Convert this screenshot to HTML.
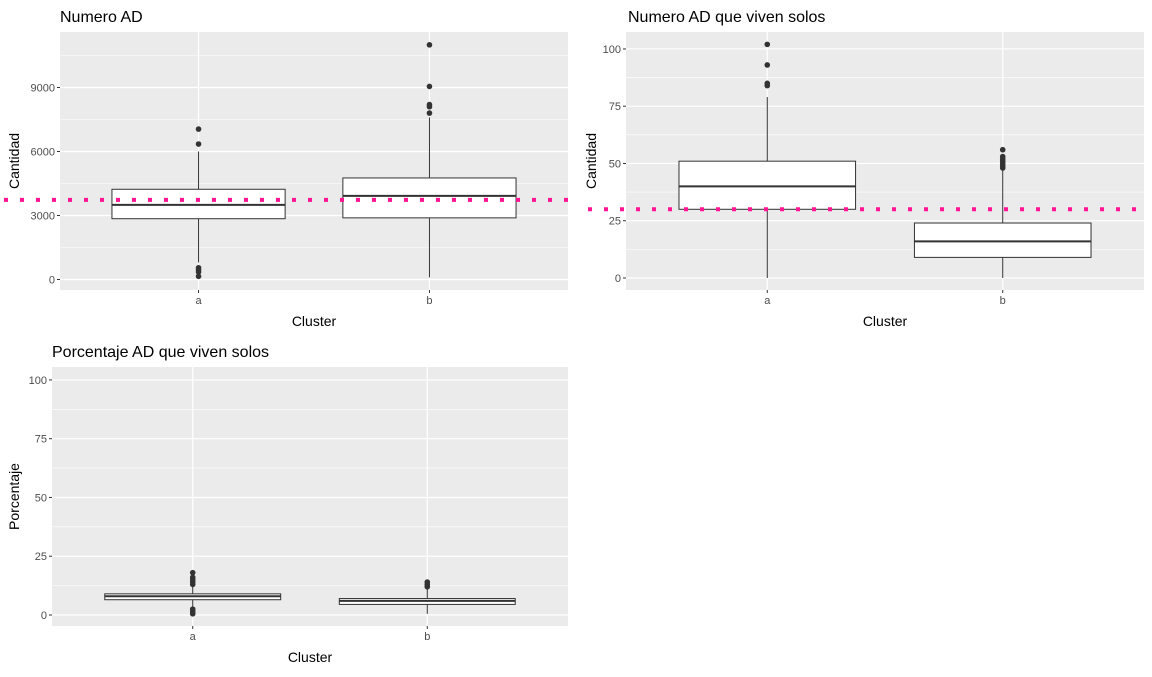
<!DOCTYPE html>
<html><head><meta charset="utf-8"><style>
body{margin:0;background:#fff;font-family:"Liberation Sans",Arial,sans-serif}
svg text{font-family:"Liberation Sans",Arial,sans-serif}
</style></head><body>
<svg id="c" width="1152" height="672" xmlns="http://www.w3.org/2000/svg"></svg>
<script>
const categories=["a","b"];
// panel 1: Numero AD
const p1Stats=[[800,2850,3500,4230,6000],[100,2890,3920,4760,7600]];
const p1Out=[[7050,6350,550,450,350,150],[7800,8100,8200,9050,11000]];
const p1Ref=3730;
const p1Ticks=[0,3000,6000,9000];
// panel 2: Numero AD que viven solos
const p2Stats=[[0,30,40,51,79],[0,9,16,24,47]];
const p2Out=[[84,85,93,102],[48,49,50,51,52,53,56]];
const p2Ref=30;
const p2Ticks=[0,25,50,75,100];
// panel 3: Porcentaje
const p3Stats=[[3.5,6.5,8,9,12.5],[0.5,4.5,6,7,11.5]];
const p3Out=[[13,14,15,16,18,0.5,1.5,2.5],[12,13,14]];
const p3Ticks=[0,25,50,75,100];

const svg=document.getElementById('c');
const NS='http://www.w3.org/2000/svg';
function mk(tag,attrs,parent){const e=document.createElementNS(NS,tag);for(const k in attrs)e.setAttribute(k,attrs[k]);(parent||svg).appendChild(e);return e;}

function panel(o){
  const g=mk('g',{});
  
  
  const {x0,x1,y0,y1,vMin,vMax}=o;
  const ys=v=>y1-(v-vMin)/(vMax-vMin)*(y1-y0);
  const W=x1-x0;
  const xs=i=>x0+W*(i+0.6)/2.2;
  const hw=W*0.375/2.2;
  const bg=mk('rect',{x:x0,y:y0,width:W,height:y1-y0,fill:'#ebebeb'},g);
  
  const step=o.ticks[1]-o.ticks[0];
  for(let i=-1;i<o.ticks.length;i++){
    const m=o.ticks[0]+step*(i+0.5);
    if(m<vMax&&m>vMin) mk('line',{x1:x0,x2:x1,y1:ys(m),y2:ys(m),stroke:'#fff','stroke-width':0.6},g);
  }
  o.ticks.forEach(t=>{
    const l=mk('line',{x1:x0,x2:x1,y1:ys(t),y2:ys(t),stroke:'#fff','stroke-width':1.2},g);
    
    mk('line',{x1:x0-3,x2:x0,y1:ys(t),y2:ys(t),stroke:'#333','stroke-width':1},g);
    const tx=mk('text',{x:x0-5,y:ys(t)+4,'text-anchor':'end','font-size':11,fill:'#4d4d4d'},g);
    tx.textContent=t;
    
  });
  categories.forEach((c,i)=>{
    mk('line',{x1:xs(i),x2:xs(i),y1:y0,y2:y1,stroke:'#fff','stroke-width':1.2},g);
    mk('line',{x1:xs(i),x2:xs(i),y1:y1,y2:y1+3,stroke:'#333'},g);
    const tx=mk('text',{x:xs(i),y:y1+14,'text-anchor':'middle','font-size':11,fill:'#4d4d4d'},g);
    tx.textContent=c;
    
  });
  o.stats.forEach((s,i)=>{
    const cx=xs(i);
    const bx=mk('g',{},g);
    
    mk('line',{x1:cx,x2:cx,y1:ys(s[0]),y2:ys(s[1]),stroke:'#333'},bx);
    mk('line',{x1:cx,x2:cx,y1:ys(s[3]),y2:ys(s[4]),stroke:'#333'},bx);
    mk('rect',{x:cx-hw,y:ys(s[3]),width:2*hw,height:ys(s[1])-ys(s[3]),fill:'#fff',stroke:'#333'},bx);
    mk('line',{x1:cx-hw,x2:cx+hw,y1:ys(s[2]),y2:ys(s[2]),stroke:'#333','stroke-width':2},bx);
    o.out[i].forEach(v=>{
      const p=mk('circle',{cx:cx,cy:ys(v),r:2.8,fill:'#333'},bx);
      
    });
  });
  if(o.ref!==undefined){
    const r=mk('line',{x1:o.refX0,x2:o.refX1,y1:ys(o.ref),y2:ys(o.ref),stroke:'#ff1493','stroke-width':4,'stroke-dasharray':'4 12'},g);
    
  }
  const t=mk('text',{x:o.titleX,y:y0-10,'font-size':16,fill:'#000'},g);t.textContent=o.title;
  
  const xt=mk('text',{x:(x0+x1)/2,y:y1+36,'text-anchor':'middle','font-size':14,fill:'#000'},g);xt.textContent='Cluster';
  
  const yx=o.yTitleX,yy=(y0+y1)/2;
  const yt=mk('text',{x:yx,y:yy,'text-anchor':'middle','font-size':14,fill:'#000',transform:`rotate(-90 ${yx} ${yy})`},g);yt.textContent=o.ytitle;
  
}
panel({name:'panel-numero-ad',x0:60,x1:568,y0:32,y1:290,vMin:-492,vMax:11602,ticks:p1Ticks,stats:p1Stats,out:p1Out,ref:p1Ref,refX0:4,refX1:568,title:'Numero AD',titleX:60,ytitle:'Cantidad',yTitleX:19});
panel({name:'panel-numero-solos',x0:626,x1:1144,y0:32,y1:290,vMin:-5.24,vMax:107.4,ticks:p2Ticks,stats:p2Stats,out:p2Out,ref:p2Ref,refX0:588,refX1:1144,title:'Numero AD que viven solos',titleX:628,ytitle:'Cantidad',yTitleX:596});
panel({name:'panel-porcentaje',x0:52,x1:568,y0:367,y1:626,vMin:-4.68,vMax:105.5,ticks:p3Ticks,stats:p3Stats,out:p3Out,title:'Porcentaje AD que viven solos',titleX:52,ytitle:'Porcentaje',yTitleX:19});
</script>
</body></html>
